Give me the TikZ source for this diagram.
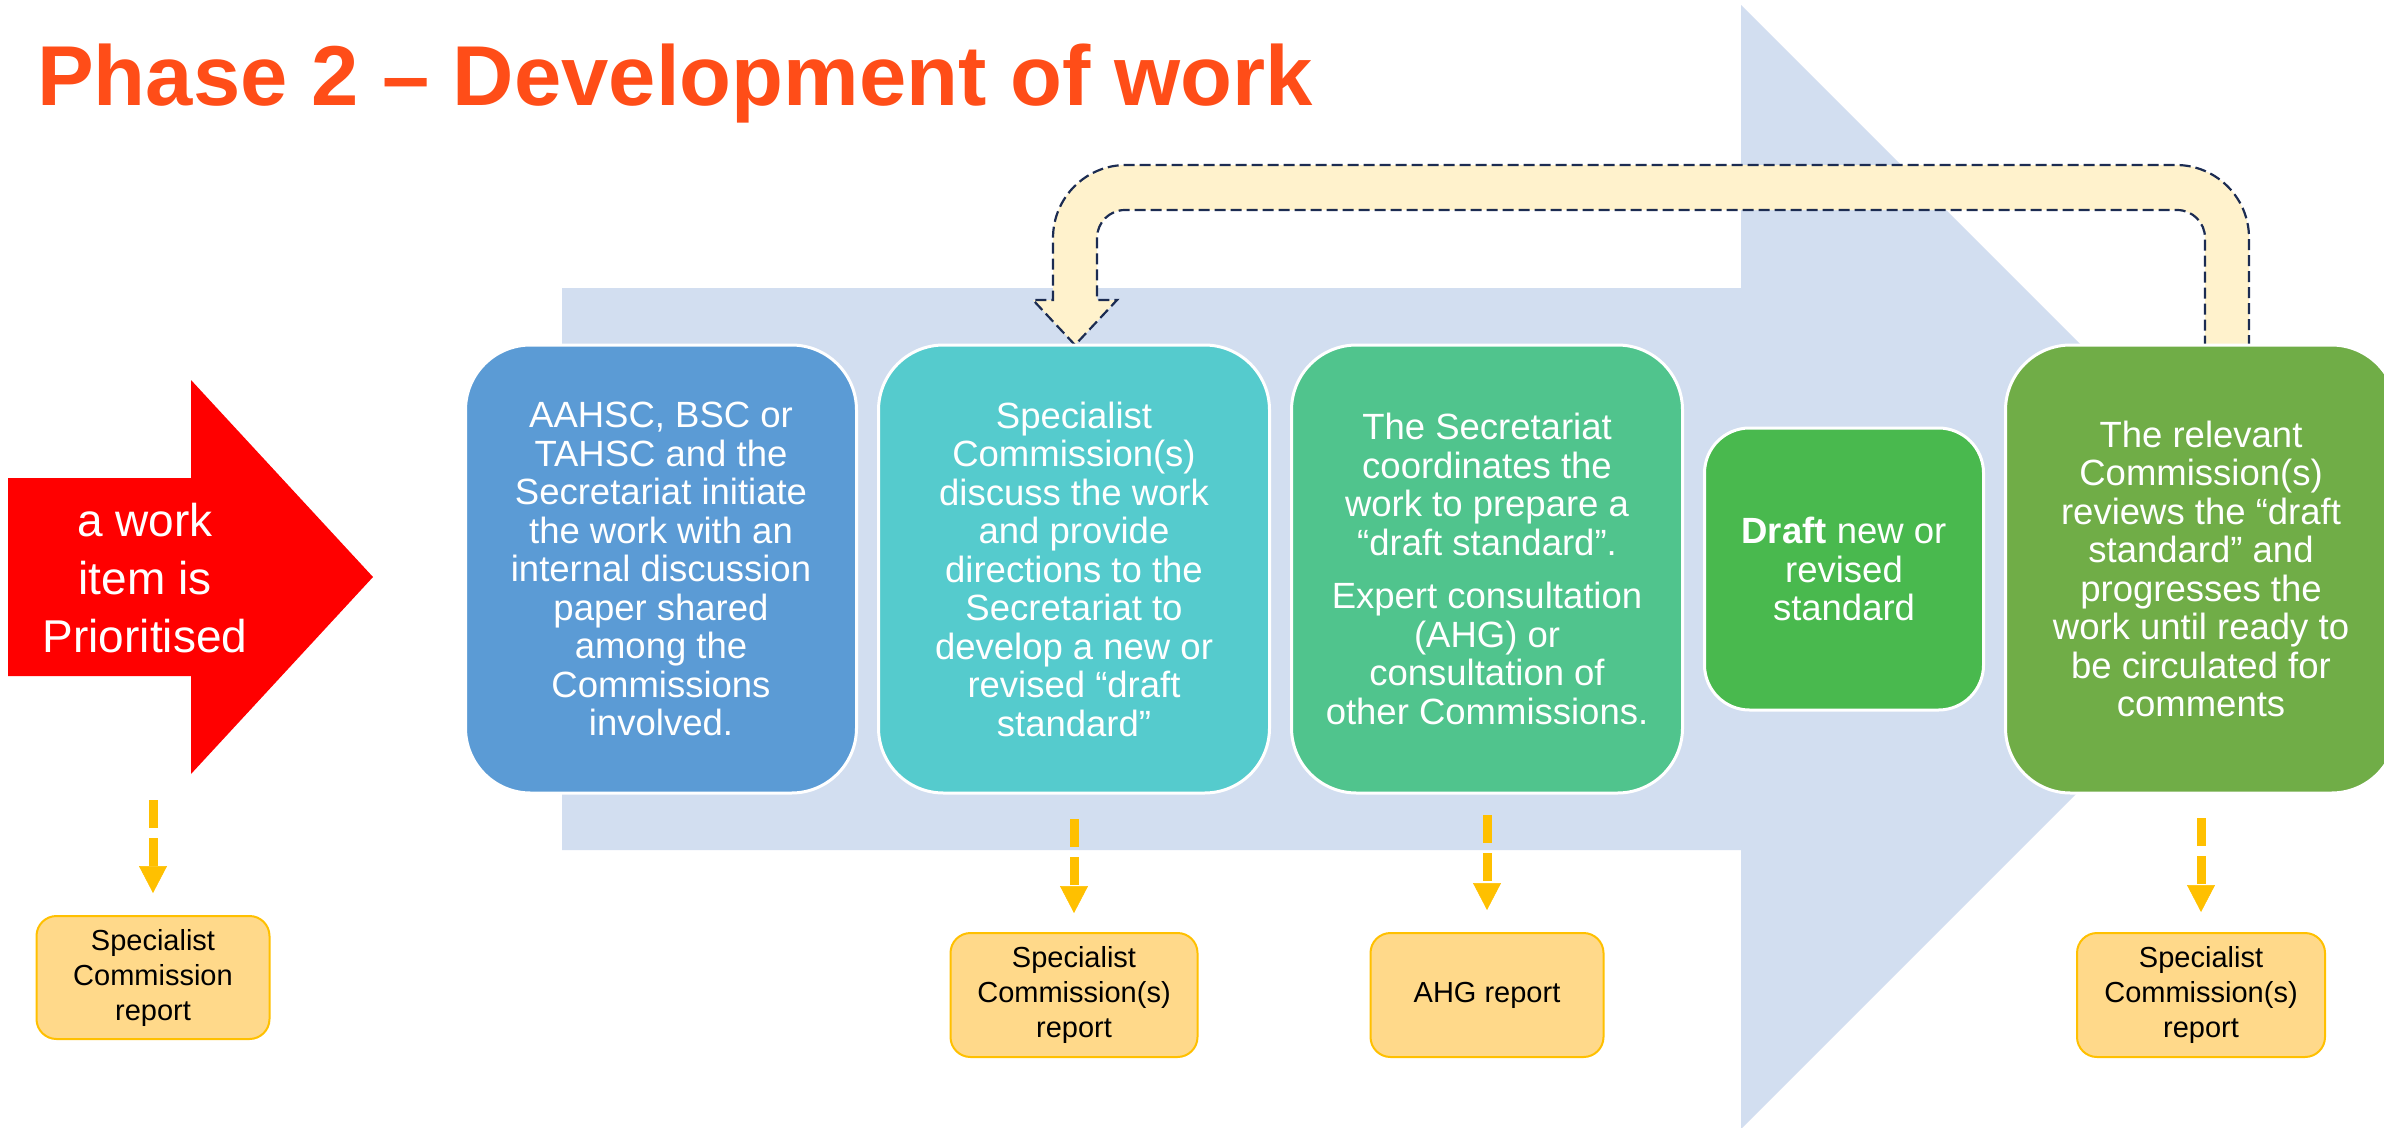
\documentclass[tikz,border=0pt]{standalone}
\usepackage{xcolor}
\usepackage{fontspec}
\setmainfont{Liberation Sans}
\usepackage{tikz}
\usetikzlibrary{positioning}
\usetikzlibrary{arrows.meta}
\definecolor{phasered}{RGB}{255,77,24}
\definecolor{flowblue}{RGB}{210,222,240}
\definecolor{boxblue}{RGB}{91,155,213}
\definecolor{boxteal}{RGB}{85,203,205}
\definecolor{boxsea}{RGB}{80,196,141}
\definecolor{boxgreen}{RGB}{73,185,78}
\definecolor{boxolive}{RGB}{112,173,71}
\definecolor{repfill}{RGB}{255,217,138}
\definecolor{repline}{RGB}{255,192,0}
\definecolor{loopfill}{RGB}{255,242,204}
\definecolor{loopline}{RGB}{28,44,82}
\tikzset{%
  stepcol/.style={rectangle,rounded corners=65pt,draw=white,line width=3pt,text=white,align=center,minimum width=391pt,minimum height=448pt,inner sep=0pt,outer sep=0pt,font=\fontsize{36.5}{38.5}\selectfont}
}
\tikzset{%
  repbox/.style={rectangle,rounded corners=20pt,fill=repfill,draw=repline,line width=2pt,align=center,minimum width=233pt,minimum height=124pt,inner sep=0pt,outer sep=0pt,font=\fontsize{29}{35}\selectfont}
}
\tikzset{%
  reparrow/.style={draw=repline,line width=9pt,dash pattern=on 28pt off 10pt,-{Triangle[width=28pt,length=27pt,line width=0.5pt]}}
}
\tikzset{%
  loopband/.style={fill=loopfill,draw=loopline,line width=2.2pt,dash pattern=on 11pt off 5pt}
}

\begin{document}
\begin{tikzpicture}[x=1pt,y=-1pt,node distance=22pt]
        \useasboundingbox (0,0) rectangle (2384,1127);
        \fill[white] (0,0) rectangle (2384,1127);
        \clip (0,0) rectangle (2384,1127);
        \fill[flowblue] (562,288) -- (1741,288) -- (1741,5) -- (2303,567) -- (1741,1129) -- (1741,850) -- (562,850) -- cycle;

        \filldraw[loopband] (2249,346) -- (2249,238) .. controls (2249,197.7) and (2216.3,165) .. (2176,165)
          -- (1126,165) .. controls (1085.7,165) and (1053,197.7) .. (1053,238)
          -- (1053,300) -- (1033,300) -- (1075,345) -- (1117,300) -- (1097,300)
          -- (1097,238) .. controls (1097,222.5) and (1109.5,210) .. (1125,210)
          -- (2177,210) .. controls (2192.5,210) and (2205,222.5) .. (2205,238)
          -- (2205,346) -- cycle;

        \node[anchor=base west,inner sep=0pt,text=phasered,font=\fontsize{85}{92}\selectfont\bfseries](title) at (37,105) {Phase 2 – Development of work};

        \fill[red] (8,478) -- (191,478) -- (191,380) -- (373,577) -- (191,774) -- (191,676) -- (8,676) -- cycle;
        \node[text=white,align=center,font=\fontsize{46}{58}\selectfont](prio) at (145,578) {a work\\item is\\Prioritised};

        \node[stepcol,fill=boxblue](init) at (661,569) {AAHSC, BSC or\\TAHSC and the\\Secretariat initiate\\the work with an\\internal discussion\\paper shared\\among the\\Commissions\\involved.};
        \node[stepcol,fill=boxteal,right=of init](discuss) {Specialist\\Commission(s)\\discuss the work\\and provide\\directions to the\\Secretariat to\\develop a new or\\revised “draft\\standard”};
        \node[stepcol,fill=boxsea,right=of discuss](prepare) {The Secretariat\\coordinates the\\work to prepare a\\“draft standard”.\\[15pt]Expert consultation\\(AHG) or\\consultation of\\other Commissions.};
        \node[stepcol,fill=boxgreen,minimum width=279pt,minimum height=282pt,rounded corners=45pt,right=of prepare](draft) {\textbf{Draft} new or\\revised\\standard};
        \node[stepcol,fill=boxolive,right=of draft](review) {The relevant\\Commission(s)\\reviews the “draft\\standard” and\\progresses the\\work until ready to\\be circulated for\\comments};

        \node[repbox,minimum height=123pt](rep0) at (153,977.5) {Specialist\\Commission\\report};
        \node[repbox,minimum width=247pt,below=140pt of discuss](rep1) {Specialist\\Commission(s)\\report};
        \node[repbox,below=140pt of prepare](rep2) {AHG report};
        \node[repbox,minimum width=248pt,below=140pt of review](rep3) {Specialist\\Commission(s)\\report};

        \coordinate (prioout) at (153,800);
        \draw[reparrow,shorten >=23pt] (prioout) -- (rep0);
        \draw[reparrow,shorten <=26pt,shorten >=20pt] (discuss) -- (rep1);
        \draw[reparrow,shorten <=22pt,shorten >=23pt] (prepare) -- (rep2);
        \draw[reparrow,shorten <=25pt,shorten >=21pt] (review) -- (rep3);
      \end{tikzpicture}
\end{document}
